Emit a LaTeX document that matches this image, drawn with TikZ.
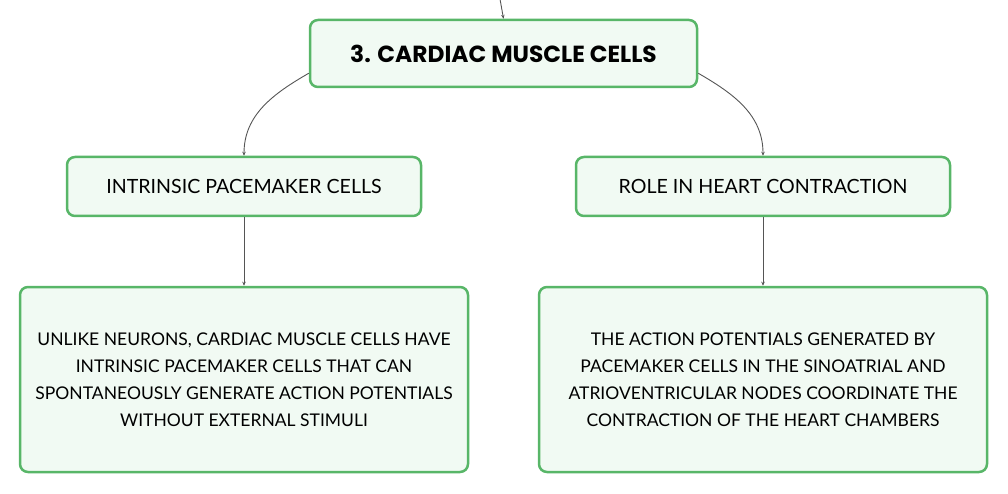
\documentclass[tikz,border=0pt]{standalone}
\usepackage{fontspec}
\setmainfont{Lato}
\newfontfamily\titlefont{Poppins}[UprightFont=* Bold]
\usetikzlibrary{arrows.meta,calc}
\definecolor{boxgreen}{RGB}{88,182,104}
\definecolor{boxfill}{RGB}{241,250,243}
\definecolor{linegray}{RGB}{85,85,85}
\tikzset{
  card/.style={draw=boxgreen, line width=2.5pt, fill=boxfill, rounded corners=8pt, align=center, inner sep=0pt, text=black},
  conn/.style={draw=linegray, line width=0.9pt, -{Stealth[length=4pt,width=3.5pt]}},
}
\begin{document}
\begin{tikzpicture}[x=1pt,y=-1pt]
\useasboundingbox (0,0) rectangle (1008,494);
\node[card, minimum width=387pt, minimum height=67pt, font=\titlefont\fontsize{23.3}{28}\selectfont] (top) at (503.5,53.5) {3. CARDIAC MUSCLE CELLS};
\node[card, minimum width=354pt, minimum height=59pt, font=\fontsize{19.6}{24}\selectfont] (lm) at (244,186.5) {INTRINSIC PACEMAKER CELLS};
\node[card, minimum width=374pt, minimum height=59pt, font=\fontsize{19.6}{24}\selectfont] (rm) at (763,186.5) {ROLE IN HEART CONTRACTION};
\node[card, minimum width=448pt, minimum height=185pt, font=\fontsize{17.5}{27}\selectfont] (lb) at (244,379.5) {UNLIKE NEURONS, CARDIAC MUSCLE CELLS HAVE\\INTRINSIC PACEMAKER CELLS THAT CAN\\SPONTANEOUSLY GENERATE ACTION POTENTIALS\\WITHOUT EXTERNAL STIMULI};
\node[card, minimum width=448pt, minimum height=185pt, font=\fontsize{17.5}{27}\selectfont] (rb) at (763,379.5) {THE ACTION POTENTIALS GENERATED BY\\PACEMAKER CELLS IN THE SINOATRIAL AND\\ATRIOVENTRICULAR NODES COORDINATE THE\\CONTRACTION OF THE HEART CHAMBERS};
\coordinate (in) at (500,-1);
\draw[conn] (in) -- (top.north);
\draw[conn] ($(top.south west)+(0,-15)$) to[out=210,in=90] (lm.north);
\draw[conn] ($(top.south east)+(0,-15)$) to[out=-30,in=90] (rm.north);
\draw[conn] (lm) -- (lb);
\draw[conn] (rm) -- (rb);
\end{tikzpicture}
\end{document}
